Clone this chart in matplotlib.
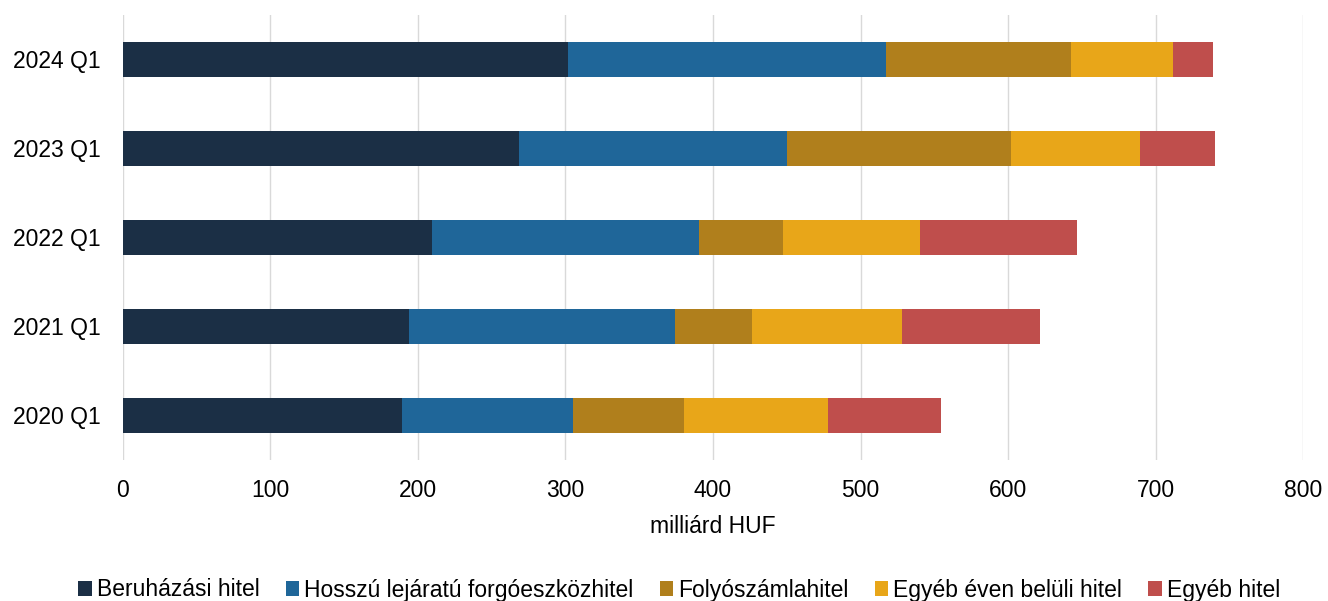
import numpy as np
import matplotlib.pyplot as plt

plt.rcParams['font.family'] = ['Liberation Sans', 'DejaVu Sans']

periods = ['2020 Q1', '2021 Q1', '2022 Q1', '2023 Q1', '2024 Q1']
series = ['Beruházási hitel', 'Hosszú lejáratú forgóeszközhitel', 'Folyószámlahitel',
          'Egyéb éven belüli hitel', 'Egyéb hitel']
beruhazasi = [189.2, 193.9, 209.5, 268.5, 301.7]
hosszu = [115.9, 180.3, 181.0, 181.7, 215.6]
folyoszamla = [75.2, 52.2, 57.0, 151.8, 125.4]
eveen_beluli = [97.7, 101.7, 92.8, 87.5, 69.2]
egyeb = [76.6, 93.6, 106.5, 50.8, 27.1]
colors = ['#1b2f45', '#1f6699', '#b07f1c', '#e8a619', '#bf4e4c']

values = [beruhazasi, hosszu, folyoszamla, eveen_beluli, egyeb]

fig = plt.figure(figsize=(13.28, 6.01), dpi=100)
ax = fig.add_axes([0.0926, 0.235, 0.8886, 0.74])

y = np.arange(len(periods))
left = np.zeros(len(periods))
for name, vals, c in zip(series, values, colors):
    ax.barh(y, vals, left=left, height=0.39, color=c, label=name)
    left += np.array(vals)

ax.set_xlim(0, 800)
ax.set_ylim(-0.5, 4.5)
ax.set_xticks(range(0, 801, 100))
ax.set_yticks(y)
ax.set_yticklabels(periods)
ax.tick_params(axis='both', length=0, labelsize=16.5)
ax.tick_params(axis='x', pad=14)
ax.tick_params(axis='y', pad=16)
ax.grid(axis='x', color='#d9d9d9', linewidth=1)
ax.set_axisbelow(True)
for s in ax.spines.values():
    s.set_visible(False)
ax.set_xlabel('milliárd HUF', fontsize=16.5, labelpad=9)

fig.legend(loc='center', bbox_to_anchor=(679 / 1328, 1 - 590 / 601), ncol=5, frameon=False,
           fontsize=16.5, handlelength=0.6, handleheight=0.6, handletextpad=0.2,
           columnspacing=1.15, borderaxespad=0)

fig.savefig('out.png', dpi=100)
